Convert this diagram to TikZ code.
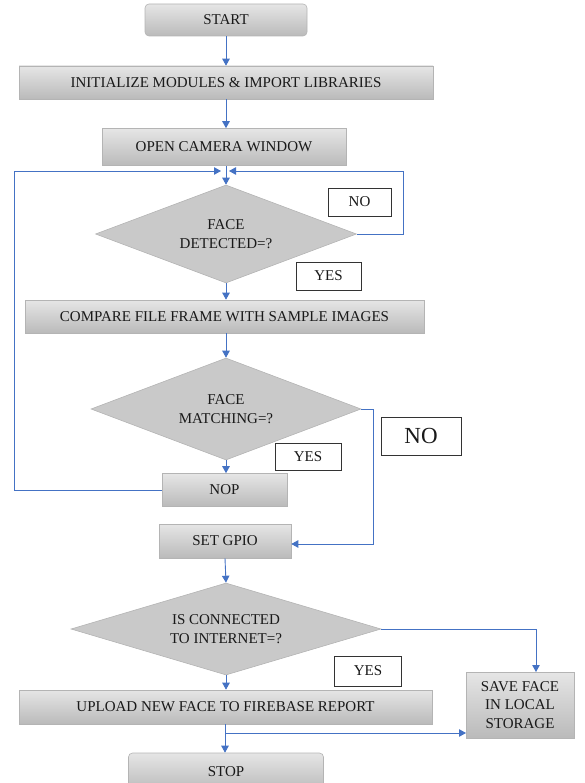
\documentclass[tikz,border=0pt]{standalone}
\usepackage{fontspec}
\setmainfont{Liberation Serif}
\usetikzlibrary{shapes.geometric,arrows.meta}
\definecolor{arrowblue}{HTML}{4472C4}
\definecolor{boxedge}{HTML}{B4B4B4}
\definecolor{diafill}{HTML}{C9C9C9}
\tikzset{
  procbox/.style={draw=boxedge, line width=0.6pt, top color=black!10, bottom color=black!27, inner sep=0pt, font=\fontsize{15}{18}\selectfont, text=black!90, align=center},
  termbox/.style={procbox, rounded corners=4pt},
  decision/.style={diamond, draw=boxedge, fill=diafill, inner sep=0pt, line width=0.6pt},
  dtext/.style={font=\fontsize{15}{19}\selectfont, text=black!90, align=center},
  labelbox/.style={draw=black!80, fill=white, line width=0.8pt, inner sep=0pt, font=\fontsize{15}{17}\selectfont, text=black!90},
  flow/.style={arrowblue, line width=0.9pt, -{Triangle[length=7pt,width=7.5pt]}},
  plain/.style={arrowblue, line width=0.9pt}
}
\begin{document}
\begin{tikzpicture}[x=1pt,y=-1pt]
\useasboundingbox (0,0) rectangle (585,783);
\clip (0,0) rectangle (585,783);
% boxes
\node[termbox, minimum width=162pt, minimum height=32pt] (start) at (226,20) {START};
\node[procbox, minimum width=414pt, minimum height=33pt] (init) at (226,82.5) {INITIALIZE MODULES \& IMPORT LIBRARIES};
\node[procbox, minimum width=244pt, minimum height=37pt] (cam) at (224,147) {OPEN CAMERA WINDOW};
\node[decision, minimum width=261pt, minimum height=98pt] (d1) at (226,234) {};
\node[dtext] at (d1) {FACE\\DETECTED=?};
\node[labelbox, minimum width=63pt, minimum height=28pt] (no1) at (359.5,202) {NO};
\node[labelbox, minimum width=65pt, minimum height=28pt] (yes1) at (328.5,276) {YES};
\node[procbox, minimum width=399pt, minimum height=33pt] (cmp) at (224.5,316.5) {COMPARE FILE FRAME WITH SAMPLE IMAGES};
\node[decision, minimum width=270pt, minimum height=102pt] (d2) at (226,409) {};
\node[dtext] at (d2) {FACE\\MATCHING=?};
\node[labelbox, minimum width=80pt, minimum height=38pt, font=\fontsize{23}{25}\selectfont] (no2) at (421,436) {NO};
\node[labelbox, minimum width=66pt, minimum height=27pt] (yes2) at (308,457) {YES};
\node[procbox, minimum width=125pt, minimum height=33pt] (nop) at (224.5,490) {NOP};
\node[procbox, minimum width=132pt, minimum height=34pt] (gpio) at (225,541) {SET GPIO};
\node[decision, minimum width=310pt, minimum height=92pt] (d3) at (226,629) {};
\node[dtext] at (d3) {IS CONNECTED\\TO INTERNET=?};
\node[labelbox, minimum width=67pt, minimum height=30pt] (yes3) at (368,671) {YES};
\node[procbox, minimum width=413pt, minimum height=34pt] (up) at (225.5,707) {UPLOAD NEW FACE TO FIREBASE REPORT};
\node[procbox, minimum width=108pt, minimum height=66pt, font=\fontsize{15}{18.5}\selectfont] (save) at (520,705) {SAVE FACE\\IN LOCAL\\STORAGE};
\node[termbox, minimum width=195pt, minimum height=38pt] (stop) at (226,772) {STOP};
% coordinates
\coordinate (jl) at (221,171);
\coordinate (jr) at (229,171);
\coordinate (r1) at (403,234);
\coordinate (r1t) at (403,171);
\coordinate (l1) at (14,490);
\coordinate (l1t) at (14,171);
\coordinate (r2) at (373,409);
\coordinate (r2b) at (373,544);
\coordinate (r3) at (536,629);
\coordinate (sv) at (536,672);
\coordinate (br) at (225,733);
\coordinate (bre) at (466,733);
% connectors
\draw[flow] (start.south) -- (init.north);
\draw[flow] (init.south) -- (cam.north -| init.south);
\draw[flow] (cam.south -| d1.north) -- (d1.north);
\draw[flow] (d1.east) -- (r1) -- (r1t) -- (jr);
\draw[flow] (nop.west) -- (l1) -- (l1t) -- (jl);
\draw[flow] (d1.south) -- (cmp.north -| d1.south);
\draw[flow] (cmp.south -| d2.north) -- (d2.north);
\draw[flow] (d2.south) -- (nop.north -| d2.south);
\draw[flow] (d2.east) -- (r2) -- (r2b) -- (r2b -| gpio.east);
\draw[flow] (gpio.south) -- (d3.north);
\draw[flow] (d3.east) -- (r3) -- (sv);
\draw[flow] (d3.south) -- (up.north -| d3.south);
\draw[flow] (up.south -| br) -- (stop.north -| br);
\draw[flow] (br) -- (bre);
\end{tikzpicture}
\end{document}
